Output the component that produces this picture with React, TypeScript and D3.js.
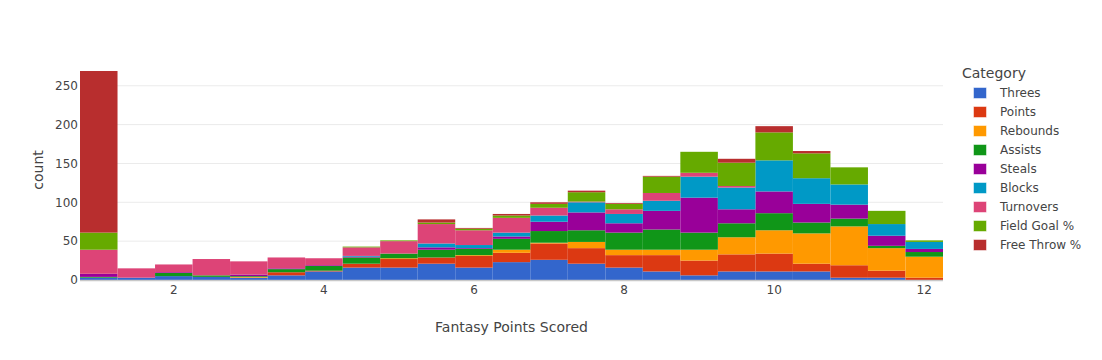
import { useEffect, useRef } from "react";
import * as d3 from "d3";

// bin centres of the histogram (bin width 0.5)
const binCenters = [1, 1.5, 2, 2.5, 3, 3.5, 4, 4.5, 5, 5.5, 6, 6.5, 7, 7.5, 8, 8.5, 9, 9.5, 10, 10.5, 11, 11.5, 12];
const binWidth = 0.5;

const categories = ["Threes", "Points", "Rebounds", "Assists", "Steals", "Blocks", "Turnovers", "Field Goal %", "Free Throw %"];
const colors = ["#3366CC", "#DC3912", "#FF9900", "#109618", "#990099", "#0099C6", "#DD4477", "#66AA00", "#B82E2E"];

const threes = [3, 3, 5, 4, 3, 6, 11, 16, 16, 21, 16, 23, 26, 21, 16, 11, 6, 11, 11, 11, 3, 3, 0];
const points = [0, 0, 0, 0, 0, 4, 1, 5, 11, 8, 15, 12, 21, 20, 16, 21, 19, 22, 23, 10, 16, 9, 3];
const rebounds = [0, 0, 0, 0, 1, 0, 0, 0, 1, 0, 1, 4, 1, 8, 7, 7, 14, 22, 30, 39, 50, 29, 27];
const assists = [1, 0, 4, 2, 1, 4, 6, 8, 6, 10, 8, 14, 15, 15, 22, 26, 22, 18, 22, 14, 10, 3, 6];
const steals = [4, 0, 1, 0, 2, 1, 1, 1, 0, 3, 1, 3, 12, 23, 12, 24, 45, 18, 28, 24, 18, 13, 4];
const blocks = [0, 0, 0, 0, 0, 0, 0, 1, 0, 5, 4, 5, 8, 13, 12, 13, 27, 28, 40, 33, 26, 15, 9];
const turnovers = [31, 12, 10, 21, 17, 14, 9, 11, 16, 25, 19, 19, 10, 1, 6, 10, 5, 2, 0, 0, 0, 0, 0];
const fieldGoal = [22, 0, 0, 0, 0, 0, 0, 1, 1, 2, 2, 3, 5, 12, 7, 21, 27, 30, 36, 32, 22, 17, 2];
const freeThrow = [208, 0, 0, 0, 0, 0, 0, 0, 0, 4, 1, 2, 2, 2, 1, 1, 0, 5, 8, 3, 0, 0, 0];

const seriesValues = [threes, points, rebounds, assists, steals, blocks, turnovers, fieldGoal, freeThrow];

const xTicks = [2, 4, 6, 8, 10, 12];
const yTicks = [0, 50, 100, 150, 200, 250];

export default function App() {
  const svgRef = useRef<SVGSVGElement>(null);

  useEffect(() => {
    const svg = d3.select(svgRef.current);
    svg.selectAll("*").remove();

    const w = 1102;
    const h = 360;
    const margin = { left: 80, right: 159, top: 60, bottom: 80 };
    const font = "'DejaVu Sans', Verdana, sans-serif";
    const textColor = "#444";

    const x = d3.scaleLinear()
      .domain([binCenters[0] - binWidth / 2, binCenters[binCenters.length - 1] + binWidth / 2])
      .range([margin.left, w - margin.right]);

    const totals = binCenters.map((_, i) => d3.sum(seriesValues, s => s[i]));
    const y = d3.scaleLinear()
      .domain([0, d3.max(totals)! * 1.0526])
      .range([h - margin.bottom, margin.top]);

    // gridlines
    svg.append("g")
      .selectAll("line")
      .data(yTicks.filter(t => t > 0))
      .enter()
      .append("line")
      .attr("x1", margin.left)
      .attr("x2", w - margin.right)
      .attr("y1", d => y(d))
      .attr("y2", d => y(d))
      .style("stroke", "#ebebeb")
      .style("stroke-width", 1);

    // stacked bars
    const rows = binCenters.map((c, i) => {
      const row: any = { center: c };
      categories.forEach((cat, k) => { row[cat] = seriesValues[k][i]; });
      return row;
    });
    const stacked = d3.stack().keys(categories)(rows);

    stacked.forEach((layer, k) => {
      svg.append("g")
        .selectAll("rect")
        .data(layer)
        .enter()
        .append("rect")
        .attr("x", d => x(d.data.center - binWidth / 2))
        .attr("width", d => x(d.data.center + binWidth / 2) - x(d.data.center - binWidth / 2))
        .attr("y", d => y(d[1]))
        .attr("height", d => y(d[0]) - y(d[1]))
        .style("fill", colors[k]);
    });

    // zero line
    svg.append("line")
      .attr("x1", margin.left)
      .attr("x2", w - margin.right)
      .attr("y1", y(0) + 0.5)
      .attr("y2", y(0) + 0.5)
      .style("stroke", "#c8c8c8")
      .style("stroke-width", 1.5);

    // y tick labels
    svg.append("g")
      .selectAll("text")
      .data(yTicks)
      .enter()
      .append("text")
      .attr("x", margin.left - 2)
      .attr("y", d => y(d))
      .attr("dy", "0.35em")
      .attr("text-anchor", "end")
      .style("font-family", font)
      .style("font-size", "12px")
      .style("fill", textColor)
      .text(d => d);

    // x tick labels
    svg.append("g")
      .selectAll("text")
      .data(xTicks)
      .enter()
      .append("text")
      .attr("x", d => x(d))
      .attr("y", h - margin.bottom + 14)
      .attr("text-anchor", "middle")
      .style("font-family", font)
      .style("font-size", "12px")
      .style("fill", textColor)
      .text(d => d);

    // axis titles
    svg.append("text")
      .attr("x", (margin.left + w - margin.right) / 2)
      .attr("y", 332)
      .attr("text-anchor", "middle")
      .style("font-family", font)
      .style("font-size", "14px")
      .style("fill", textColor)
      .text("Fantasy Points Scored");

    svg.append("text")
      .attr("transform", `translate(43, ${(margin.top + h - margin.bottom) / 2}) rotate(-90)`)
      .attr("text-anchor", "middle")
      .style("font-family", font)
      .style("font-size", "14px")
      .style("fill", textColor)
      .text("count");

    // legend
    const legend = svg.append("g").attr("transform", "translate(962, 78)");
    legend.append("text")
      .attr("x", 0)
      .attr("y", 0)
      .style("font-family", font)
      .style("font-size", "14px")
      .style("fill", textColor)
      .text("Category");

    const item = legend.selectAll("g.item")
      .data(categories)
      .enter()
      .append("g")
      .attr("class", "item")
      .attr("transform", (d, i) => `translate(0, ${19 + i * 19})`);

    item.append("rect")
      .attr("x", 11.5)
      .attr("y", -9.5)
      .attr("width", 13)
      .attr("height", 11)
      .style("fill", (d, i) => colors[i])
      .style("stroke", "#fff")
      .style("stroke-opacity", 0.5)
      .style("stroke-width", 1);

    item.append("text")
      .attr("x", 38)
      .attr("y", 0)
      .style("font-family", font)
      .style("font-size", "12px")
      .style("fill", textColor)
      .text(d => d);
  }, []);

  return (
    <svg
      ref={svgRef}
      width={1102}
      height={360}
      style={{ position: "absolute", left: 0, top: 0, background: "#fff" }}
    />
  );
}
